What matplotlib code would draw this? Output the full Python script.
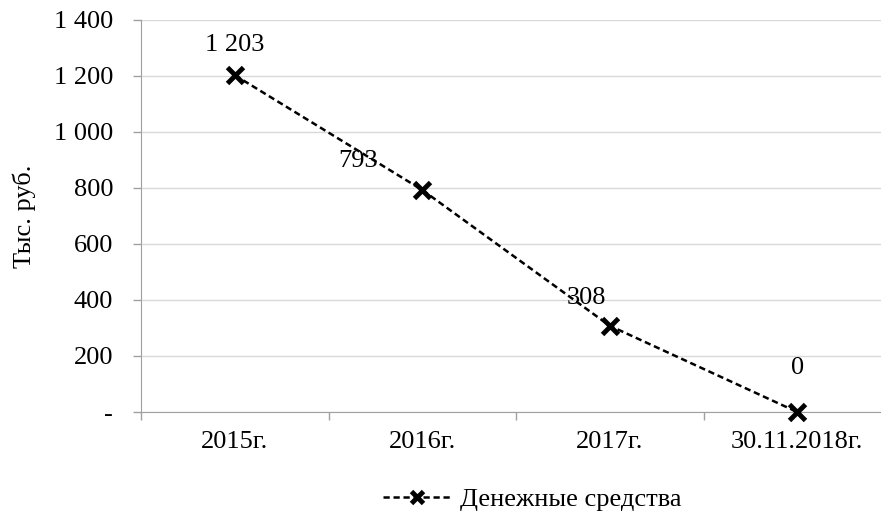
import matplotlib.pyplot as plt
import matplotlib.ticker as mticker

plt.rcParams['font.family'] = ['Liberation Serif', 'DejaVu Serif']

periods = ["2015г.", "2016г.", "2017г.", "30.11.2018г."]
cash = [1203, 793, 308, 0]
label_offsets = [(0, 22), (-46, 21), (-17, 20), (0, 32)]  # points, as in the reference

FS = 19

fig = plt.figure(figsize=(8.81, 5.19), dpi=100)
ax = fig.add_axes([141 / 881, 107 / 519, 750 / 881, 392 / 519])

x = list(range(len(periods)))
ax.plot(x, cash, color='black', linestyle=(0, (2.5, 1.5)), linewidth=1.8,
        marker='x', markersize=11, markeredgewidth=3.5, clip_on=False,
        label="Денежные средства", zorder=3)

for xi, v, off in zip(x, cash, label_offsets):
    txt = f"{v:,}".replace(",", " ")
    ax.annotate(txt, (xi, v), xytext=off, textcoords='offset points',
                ha='center', va='center', fontsize=FS)

ax.set_xlim(-0.5, 3.5)
ax.set_ylim(0, 1400)
ax.yaxis.set_major_locator(mticker.MultipleLocator(200))
ax.yaxis.set_major_formatter(mticker.FuncFormatter(
    lambda v, p: "-" if v == 0 else f"{int(v):,}".replace(",", " ")))

ax.set_xticks(x)
ax.set_xticklabels(periods)
ax.set_xticks([-0.5, 0.5, 1.5, 2.5, 3.5], minor=True)
ax.tick_params(axis='x', which='major', length=0, pad=14, labelsize=FS)
ax.tick_params(axis='x', which='minor', length=6, color='#a0a0a0', width=1)
ax.tick_params(axis='y', length=6, color='#a0a0a0', width=1, labelsize=FS, pad=14)

ax.grid(axis='y', color='#d9d9d9', linewidth=1)
ax.set_axisbelow(True)
for s in ['top', 'right']:
    ax.spines[s].set_visible(False)
for s in ['left', 'bottom']:
    ax.spines[s].set_color('#a0a0a0')

ax.set_ylabel("Тыс. руб.", fontsize=FS, labelpad=13)

fig.legend(loc='lower center', bbox_to_anchor=(532 / 881, -0.03), frameon=False,
           fontsize=FS, handlelength=2.6, handletextpad=0.3, markerscale=0.8)

plt.savefig("out.png", dpi=100)
